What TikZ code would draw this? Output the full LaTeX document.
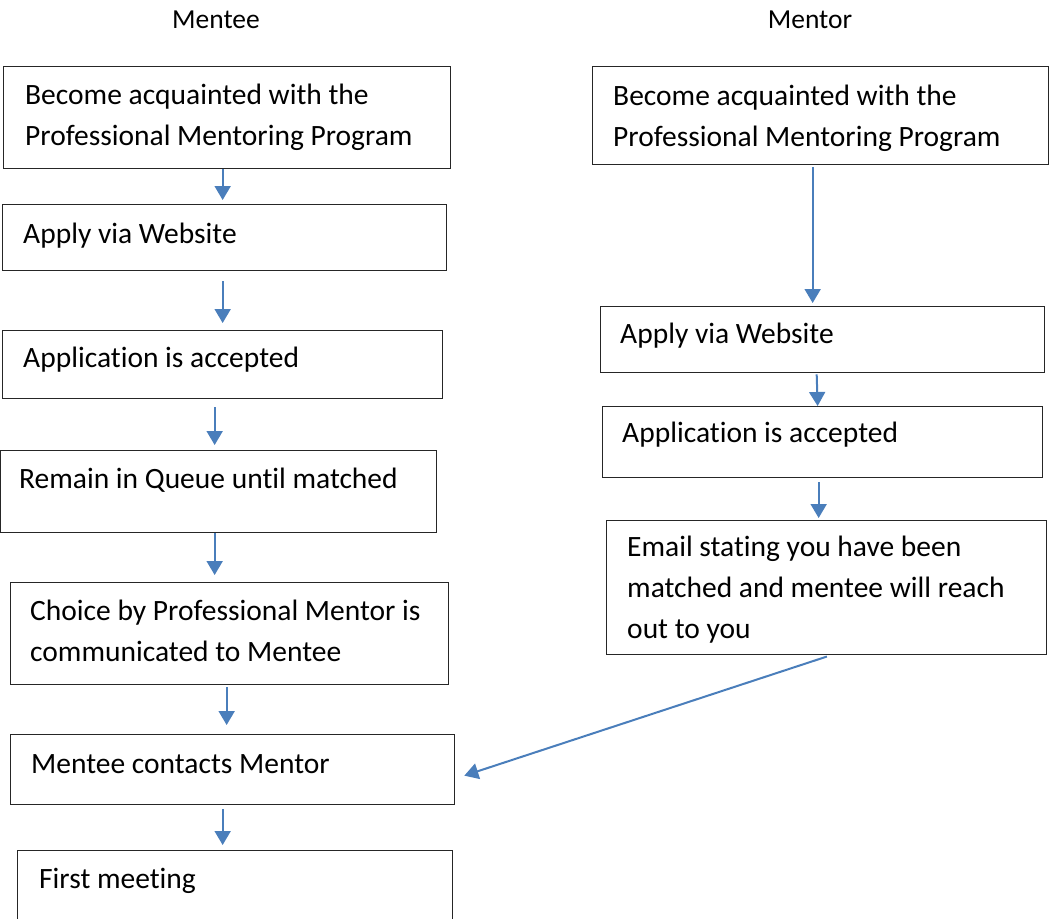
\documentclass[tikz,border=0pt]{standalone}
\usepackage{fontspec}
\setmainfont{Carlito}[Ligatures=NoCommon]
\usetikzlibrary{arrows.meta}
\definecolor{arrowblue}{HTML}{4A7EBB}

\begin{document}
\begin{tikzpicture}[x=1pt,y=-1pt,
    box/.style={rectangle,draw=black!85,line width=1.3pt,anchor=north west,inner sep=0pt},
    txt/.style={anchor=base west,inner sep=0pt,align=left,font=\fontsize{29.5}{41}\selectfont},
    arr/.style={-{Triangle[width=16pt,length=14pt]},draw=arrowblue,fill=arrowblue,line width=2pt}]

  \useasboundingbox (0,0) rectangle (1049,918);

  \node[txt,anchor=base,font=\fontsize{27.5}{33}\selectfont] (hMentee) at (216,28) {Mentee};
  \node[txt,anchor=base,font=\fontsize{27.5}{33}\selectfont] (hMentor) at (810,28) {Mentor};

  % mentee column
  \node[box,minimum width=447pt,minimum height=102pt] (ACQ) at (3,66)  {};
  \node[box,minimum width=444pt,minimum height=66pt]  (APP) at (2,204) {};
  \node[box,minimum width=440pt,minimum height=68pt]  (ACC) at (2,330) {};
  \node[box,minimum width=436pt,minimum height=82pt]  (QUE) at (0,450) {};
  \node[box,minimum width=438pt,minimum height=102pt] (CHO) at (10,582) {};
  \node[box,minimum width=444pt,minimum height=70pt]  (CON) at (10,734) {};
  \node[box,minimum width=435pt,minimum height=70pt]  (MEE) at (17,850) {};

  % text nodes sit on the baseline of their last line
  \node[txt] (tACQ) at (25,145) {Become acquainted with the\\Professional Mentoring Program};
  \node[txt] (tAPP) at (23,243) {Apply via Website};
  \node[txt] (tACC) at (23,367) {Application is accepted};
  \node[txt] (tQUE) at (19,488) {Remain in Queue until matched};
  \node[txt] (tCHO) at (30,661) {Choice by Professional Mentor is\\communicated to Mentee};
  \node[txt] (tCON) at (31,773) {Mentee contacts Mentor};
  \node[txt] (tMEE) at (39,888) {First meeting};

  % mentor column
  \node[box,minimum width=456pt,minimum height=98pt]  (RACQ) at (592,66)  {};
  \node[box,minimum width=444pt,minimum height=66pt]  (RAPP) at (600,306) {};
  \node[box,minimum width=440pt,minimum height=71pt]  (RACC) at (602,406) {};
  \node[box,minimum width=440pt,minimum height=134pt] (REM)  at (606,520) {};

  \node[txt] (tRACQ) at (613,146) {Become acquainted with the\\Professional Mentoring Program};
  \node[txt] (tRAPP) at (620,343) {Apply via Website};
  \node[txt] (tRACC) at (622,442) {Application is accepted};
  \node[txt] (tREM)  at (627,638) {Email stating you have been\\matched and mentee will reach\\out to you};

  \draw[arr,shorten >=4pt] ([xshift=-4.5pt]ACQ.south) -- ([xshift=-4.5pt]ACQ.south |- APP.north);
  \draw[arr,shorten <=10pt,shorten >=7pt] ([xshift=-2pt]APP.south) -- ([xshift=-2pt]APP.south |- ACC.north);
  \draw[arr,shorten <=8pt,shorten >=5pt] ([xshift=-8pt]ACC.south) -- ([xshift=-8pt]ACC.south |- QUE.north);
  \draw[arr,shorten >=7pt] ([xshift=-4pt]QUE.south) -- ([xshift=-4pt]QUE.south |- CHO.north);
  \draw[arr,shorten <=2pt,shorten >=9pt] ([xshift=-3pt]CHO.south) -- ([xshift=-3pt]CHO.south |- CON.north);
  \draw[arr,shorten <=4pt,shorten >=5pt] ([xshift=-10pt]CON.south) -- ([xshift=-10pt]CON.south |- MEE.north);

  \draw[arr,shorten <=2pt,shorten >=3pt] ([xshift=-8pt]RACQ.south) -- ([xshift=-8pt]RACQ.south |- RAPP.north);
  \draw[arr,shorten <=1pt] ([xshift=-6pt]RAPP.south) -- ([xshift=-5pt]RACC.north);
  \draw[arr,shorten <=4pt,shorten >=2pt] ([xshift=-4pt]RACC.south) -- ([xshift=-4pt]RACC.south |- REM.north);
  \draw[arr,shorten <=4pt] ([xshift=4pt]REM.south) -- ([xshift=9pt,yshift=-6pt]CON.east);
\end{tikzpicture}
\end{document}
